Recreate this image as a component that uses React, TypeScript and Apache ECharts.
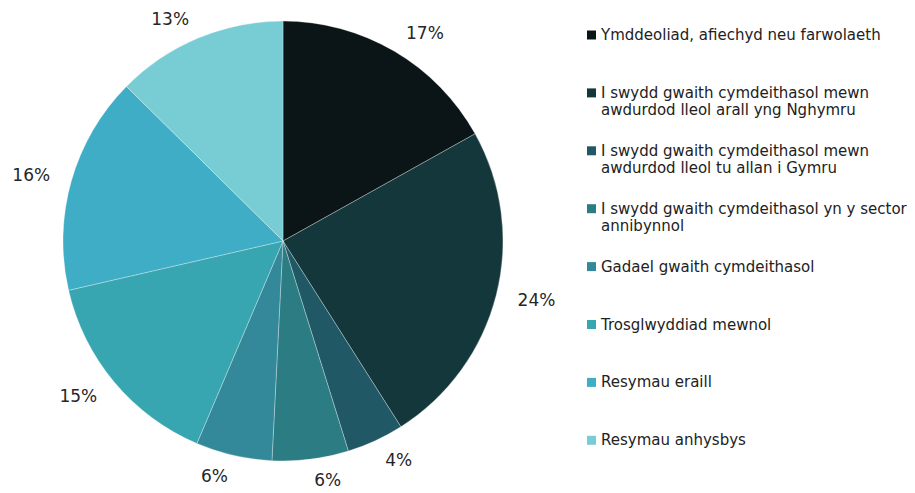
import { useEffect, useRef } from "react";
import * as echarts from "echarts";

const categories = [
  "Ymddeoliad, afiechyd neu farwolaeth",
  "I swydd gwaith cymdeithasol mewn awdurdod lleol arall yng Nghymru",
  "I swydd gwaith cymdeithasol mewn awdurdod lleol tu allan i Gymru",
  "I swydd gwaith cymdeithasol yn y sector annibynnol",
  "Gadael gwaith cymdeithasol",
  "Trosglwyddiad mewnol",
  "Resymau eraill",
  "Resymau anhysbys",
];

const legendLines = [
  ["Ymddeoliad, afiechyd neu farwolaeth"],
  ["I swydd gwaith cymdeithasol mewn", "awdurdod lleol arall yng Nghymru"],
  ["I swydd gwaith cymdeithasol mewn", "awdurdod lleol tu allan i Gymru"],
  ["I swydd gwaith cymdeithasol yn y sector", "annibynnol"],
  ["Gadael gwaith cymdeithasol"],
  ["Trosglwyddiad mewnol"],
  ["Resymau eraill"],
  ["Resymau anhysbys"],
];

const values = [16.9, 24.1, 4.2, 5.6, 5.6, 15.0, 16.0, 12.6];

const colors = [
  "#0b1517",
  "#13373b",
  "#205965",
  "#2b7c83",
  "#338999",
  "#37a6b0",
  "#3eadc5",
  "#78cdd5",
];

export default function App() {
  const ref = useRef<HTMLDivElement>(null);

  useEffect(() => {
    if (!ref.current) return;
    const chart = echarts.init(ref.current, null, { renderer: "svg" });
    const font = "'DejaVu Sans', Verdana, sans-serif";
    const legendTop0 = 26.5;
    const legendStep = 57.9;

    const legends = categories.map((name, i) => {
      const lines = legendLines[i];
      const multi = lines.length > 1;
      return {
        show: true,
        orient: "vertical",
        left: 587,
        top: legendTop0 + legendStep * i,
        padding: 0,
        selectedMode: false,
        itemWidth: 9,
        itemHeight: multi ? 26 : 9,
        itemGap: 0,
        itemStyle: { borderWidth: 0 },
        textStyle: {
          fontFamily: font,
          fontSize: 15,
          lineHeight: 17,
          color: "#222",
        },
        formatter: () => lines.join("\n"),
        data: [
          {
            name,
            icon: multi ? "path://M0,0H9V9H0Z M0,26" : "rect",
          },
        ],
      };
    });

    chart.setOption({
      animation: false,
      color: colors,
      legend: legends,
      series: [
        {
          type: "pie",
          center: [283, 241],
          radius: [0, 220],
          startAngle: 90,
          clockwise: true,
          avoidLabelOverlap: false,
          itemStyle: { borderColor: "rgba(255,255,255,0.6)", borderWidth: 0.5 },
          label: {
            show: true,
            position: "outside",
            fontFamily: font,
            fontSize: 17,
            color: "#262626",
            distanceToLabelLine: 1,
            formatter: (p: any) => Math.round(p.value) + "%",
          },
          labelLine: {
            show: true,
            length: 21,
            length2: 0,
            lineStyle: { opacity: 0, width: 0 },
          },
          emphasis: { disabled: true },
          data: categories.map((name, i) => ({ name, value: values[i] })),
        },
      ],
    });

    return () => chart.dispose();
  }, []);

  return (
    <div
      ref={ref}
      style={{ position: "fixed", left: 0, top: 0, width: 915, height: 493, background: "#fff" }}
    />
  );
}
